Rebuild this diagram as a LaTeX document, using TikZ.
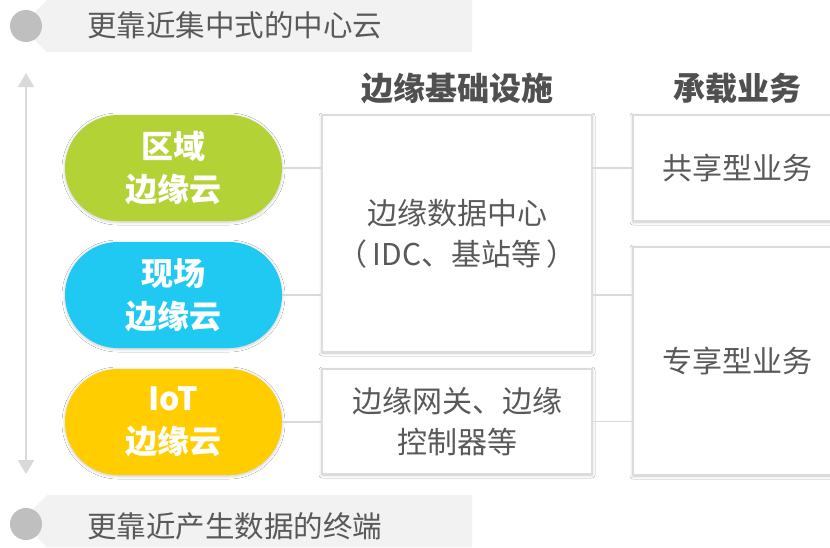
\documentclass[tikz,border=0pt]{standalone}
\usepackage{fontspec}
\newfontfamily\cjk{Noto Sans CJK SC}
\usetikzlibrary{arrows.meta,shadows.blur}
\definecolor{txt}{HTML}{595959}
\definecolor{headtxt}{HTML}{505050}
\definecolor{bannergrey}{HTML}{F2F2F2}
\definecolor{dotgrey}{HTML}{BFBFBF}
\definecolor{linegrey}{HTML}{D9D9D9}
\definecolor{boxline}{HTML}{DCDCDC}
\definecolor{cgreen}{HTML}{B2D235}
\definecolor{cblue}{HTML}{1FC9F2}
\definecolor{cyellow}{HTML}{FFCD00}
\begin{document}
\begin{tikzpicture}[x=1pt,y=-1pt,
  softshadow/.style={blur shadow={shadow xshift=0pt,shadow yshift=-1pt,shadow blur radius=3pt,shadow opacity=22}},
  pill/.style={softshadow,rounded corners=52.9pt,minimum width=217pt,minimum height=106pt,inner sep=0pt,align=center,text=white,font=\cjk\bfseries\fontsize{32}{43}\selectfont},
  infra/.style={softshadow,draw=boxline,line width=2pt,fill=white,inner sep=0pt,align=center,text=txt,font=\cjk\fontsize{30}{41}\selectfont},
  link/.style={draw=linegrey,line width=1.5pt},
  banner/.style={fill=bannergrey},
  bannertext/.style={anchor=west,inner sep=0pt,text=txt,font=\cjk\fontsize{29.5}{36}\selectfont},
  dot/.style={circle,fill=dotgrey,minimum size=32pt,inner sep=0pt},
  header/.style={inner sep=0pt,text=headtxt,font=\cjk\bfseries\fontsize{32}{38}\selectfont}
]
\clip (0,0) rectangle (830,547);
\fill[white] (0,0) rectangle (830,547);

% banners
\fill[banner] (47,0) -- (472,0) -- (472,52) -- (47,52) -- (21,26) -- cycle;
\node[dot] (dtop) at (26,26) {};
\node[bannertext] (ttop) at (87,25) {更靠近集中式的中心云};
\fill[banner] (47,495) -- (472,495) -- (472,547) -- (47,547) -- (21,521) -- cycle;
\node[dot] (dbot) at (26,524) {};
\node[bannertext] (tbot) at (87,526) {更靠近产生数据的终端};

% vertical double arrow
\coordinate (atop) at (26,73);
\coordinate (abot) at (26,474);
\draw[linegrey,line width=2pt,{Triangle[width=16pt,length=14pt]}-{Triangle[width=16pt,length=14pt]}] (abot) -- (atop);

% headers
\node[header] (h1) at (457,88) {边缘基础设施};
\node[header] (h2) at (737,88) {承载业务};

% pills
\node[pill,fill=cgreen] (p1) at (173.5,168) {区域\\边缘云};
\node[pill,fill=cblue] (p2) at (173.5,295) {现场\\边缘云};
\node[pill,fill=cyellow] (p3) at (173.5,422) {IoT\\边缘云};

% infrastructure boxes
\node[infra,minimum width=270pt,minimum height=237pt] (bA) at (457,233.5) {边缘数据中心\\（\,IDC、基站等\,）};
\node[infra,minimum width=270pt,minimum height=105pt] (bB) at (457,421.5) {边缘网关、边缘\\控制器等};

% business boxes
\node[infra,minimum width=208pt,minimum height=106pt] (bC) at (737,168) {共享型业务};
\node[infra,minimum width=208pt,minimum height=228pt] (bD) at (737,361) {专享型业务};

% connectors
\draw[link] (p1.east) -- (p1.east -| bA.west);
\draw[link] (p2.east) -- (p2.east -| bA.west);
\draw[link] (p3.east) -- (p3.east -| bB.west);
\draw[link] (bA.east |- p1.east) -- (bC.west |- p1.east);
\draw[link] (bA.east |- p2.east) -- (bD.west |- p2.east);
\draw[link] (bB.east) -- (bB.east -| bD.west);
\end{tikzpicture}
\end{document}
